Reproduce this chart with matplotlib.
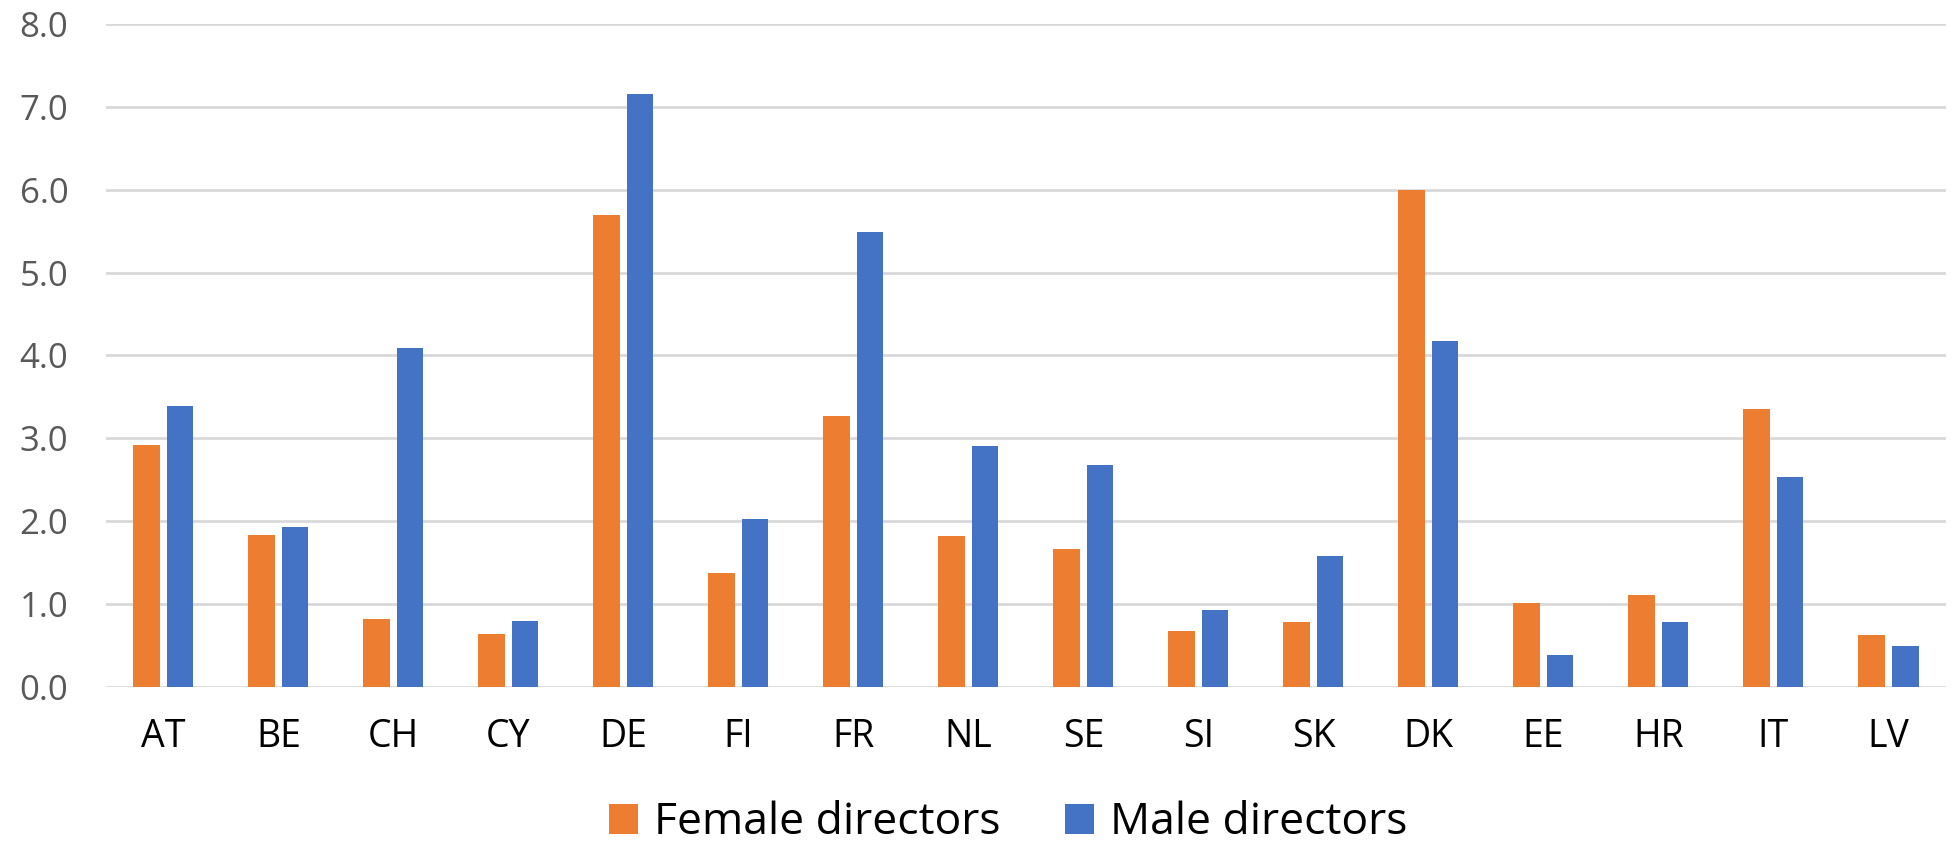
import matplotlib.pyplot as plt
import numpy as np

plt.rcParams['font.family'] = ['Open Sans', 'DejaVu Sans']

countries = ['AT', 'BE', 'CH', 'CY', 'DE', 'FI', 'FR', 'NL', 'SE', 'SI',
             'SK', 'DK', 'EE', 'HR', 'IT', 'LV']
female = [2.92, 1.83, 0.82, 0.64, 5.69, 1.37, 3.27, 1.82, 1.66, 0.68,
          0.78, 6.00, 1.01, 1.11, 3.35, 0.63]
male = [3.39, 1.93, 4.09, 0.79, 7.15, 2.03, 5.49, 2.91, 2.68, 0.93,
        1.58, 4.18, 0.39, 0.78, 2.53, 0.49]
y_ticks = np.arange(0, 8.1, 1.0)

fig = plt.figure(figsize=(19.54, 8.46), dpi=100)
ax = fig.add_axes([0.0542, 0.188, 0.9417, 0.7836])

x = np.arange(len(countries))
w = 0.23
off = 0.146
ax.bar(x - off, female, w, color='#ED7D31', label='Female directors', zorder=3)
ax.bar(x + off, male, w, color='#4472C4', label='Male directors', zorder=3)

ax.set_xlim(-0.5, len(countries) - 0.5)
ax.set_ylim(0, 8)
ax.set_yticks(y_ticks)
ax.set_yticklabels([f'{v:.1f}' for v in y_ticks])
ax.set_xticks(x)
ax.set_xticklabels(countries)
ax.grid(axis='y', color='#d9d9d9', linewidth=2, zorder=0)
for s in ax.spines.values():
    s.set_visible(False)
ax.tick_params(axis='y', length=0, pad=27, labelsize=25, labelcolor='#595959')
ax.tick_params(axis='x', length=0, pad=22, labelsize=27, labelcolor='black')

# legend sits low, close to the bottom edge as in the original
fig.legend(loc='center', bbox_to_anchor=(0.516, 0.027), ncol=2,
           frameon=False, fontsize=32, handlelength=0.65, handleheight=0.65,
           handletextpad=0.37, columnspacing=1.45, borderpad=0.2)

fig.savefig('out.png', dpi=100)
